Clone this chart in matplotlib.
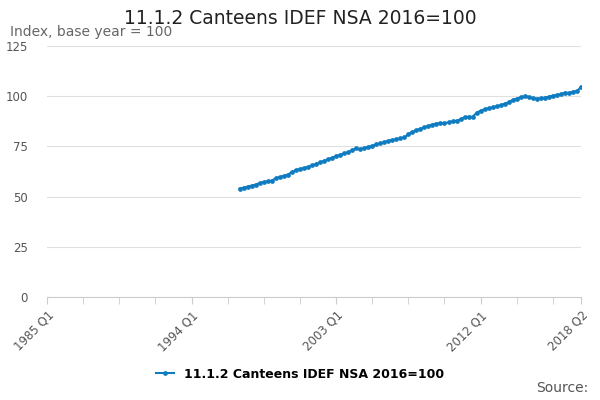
import matplotlib.pyplot as plt
import numpy as np

start_year = 1997
values = [54.0, 54.5, 55.0, 55.5,
          56.0, 56.8, 57.3, 57.6,
          58.0, 59.2, 59.8, 60.3,
          61.0, 62.2, 63.2, 63.8,
          64.2, 64.8, 65.5, 66.2,
          67.0, 67.8, 68.6, 69.3,
          70.2, 70.8, 71.5, 72.0,
          73.2, 74.0, 73.6, 74.2,
          74.8, 75.3, 76.0, 76.5,
          77.2, 77.8, 78.2, 78.6,
          79.0, 79.5, 81.0, 82.2,
          83.0, 83.8, 84.5, 85.2,
          85.9, 86.4, 86.6, 86.5,
          87.0, 87.5, 87.8, 88.5,
          89.5, 89.8, 89.7, 91.8,
          92.8, 93.5, 94.0, 94.5,
          95.0, 95.5, 96.3, 97.0,
          98.2, 98.8, 99.5, 100.0,
          99.6, 99.0, 98.8, 98.9,
          99.3, 99.8, 100.3, 100.6,
          101.0, 101.8, 101.6, 102.3,
          102.6, 104.5]
tick_labels = ['1985 Q1', '1994 Q1', '2003 Q1', '2012 Q1', '2018 Q2']
label_pos = [0, 36, 72, 108, 133]

x = (start_year - 1985) * 4 + np.arange(len(values))
blue = '#0f7cc1'

fig = plt.figure(figsize=(6, 4), dpi=100)
ax = fig.add_axes([47/600, 103/400, 534/600, 251/400])
ax.plot(x, values, color=blue, lw=1.5, marker='o', ms=2.4, label='11.1.2 Canteens IDEF NSA 2016=100')
ax.set_xlim(0, 133)
ax.set_ylim(0, 125)
ax.set_yticks([0, 25, 50, 75, 100, 125])
ax.set_xticks(list(range(0, 133, 9)) + [133], minor=True)
ax.set_xticks(label_pos)
ax.set_xticklabels(tick_labels, rotation=45, ha='right', rotation_mode='anchor', color='#555555', fontsize=8.5)
ax.tick_params(axis='y', length=0, labelcolor='#555555', labelsize=8.5, pad=14)
ax.tick_params(axis='x', which='both', length=5, color='#cccccc')
ax.grid(axis='y', color='#e0e0e0', lw=0.8)
for s in ['left', 'right', 'top']:
    ax.spines[s].set_visible(False)
ax.spines['bottom'].set_color('#cccccc')

fig.text(0.5, 0.955, '11.1.2 Canteens IDEF NSA 2016=100', ha='center', va='center', fontsize=13.5, color='#222222')
fig.text(10/600, 0.92, 'Index, base year = 100', ha='left', va='center', fontsize=10, color='#666666')
fig.text(588/600, 0.03, 'Source:', ha='right', va='center', fontsize=10, color='#555555')
fig.legend(loc='center', bbox_to_anchor=(0.5, 0.065), frameon=False,
           prop={'weight': 'bold', 'size': 9}, handlelength=1.5)

fig.savefig('out.png')
